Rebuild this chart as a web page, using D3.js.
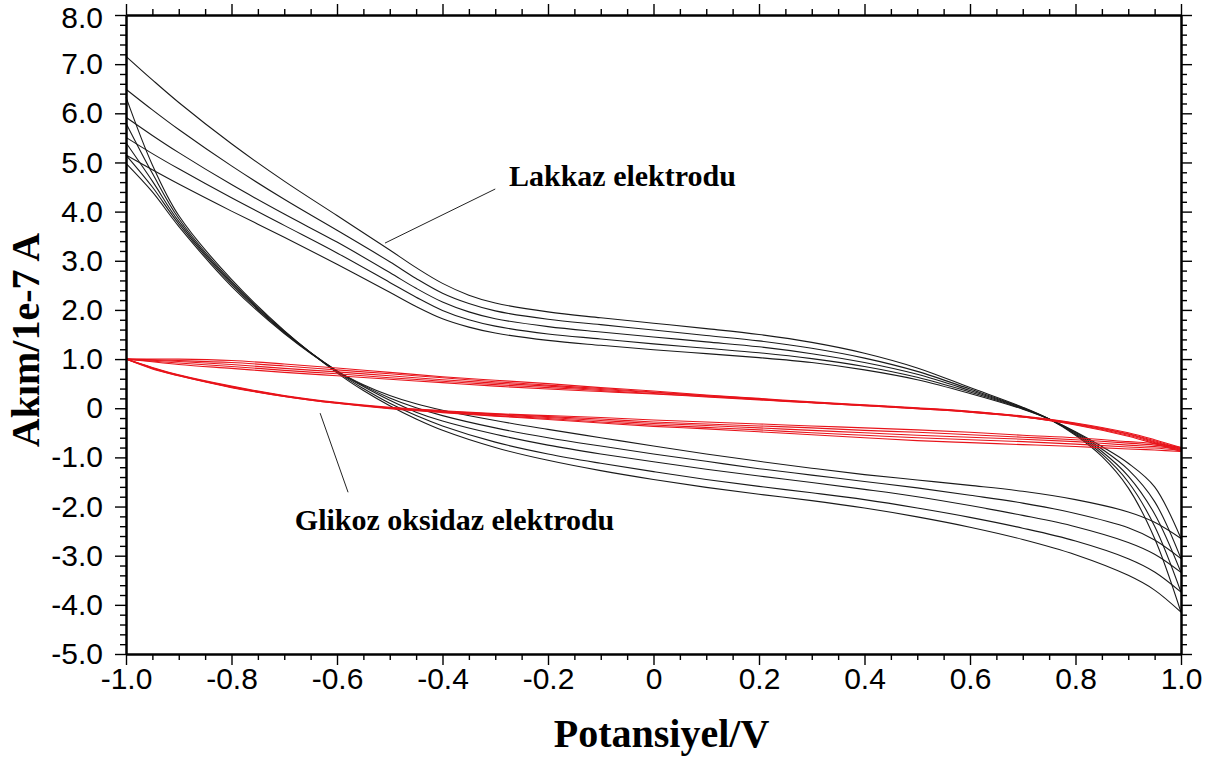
<!DOCTYPE html>
<html lang="tr">
<head>
<meta charset="UTF-8">
<title>Akım - Potansiyel</title>
<style>
  body { margin: 0; background: #fff; }
  .axis path, .axis line { stroke: #000; }
  .axis path { stroke-width: 2; }
  .axis line { stroke-width: 1.4; }
  .axis text { font-family: "Liberation Sans", Arial, sans-serif; font-size: 30px; fill: #000; }
  .title { font-family: "Liberation Serif", "Times New Roman", serif; font-weight: bold; fill: #000; }
</style>
</head>
<body>
<div id="chart"></div>
<script src="https://d3js.org/d3.v7.min.js"></script>
<script>
// ---- data ----
const yTicks = [-5, -4, -3, -2, -1, 0, 1, 2, 3, 4, 5, 6, 7, 8];
const yTickLabels = ["-5.0", "-4.0", "-3.0", "-2.0", "-1.0", "0", "1.0", "2.0", "3.0", "4.0", "5.0", "6.0", "7.0", "8.0"];
const xTicks = [-1.0, -0.8, -0.6, -0.4, -0.2, 0, 0.2, 0.4, 0.6, 0.8, 1.0];
const xTickLabels = ["-1.0", "-0.8", "-0.6", "-0.4", "-0.2", "0", "0.2", "0.4", "0.6", "0.8", "1.0"];

// Lakkaz elektrodu (black), 5 cycles: forward scan -1 -> +1, then back +1 -> -1
const lakXUp = [-1.0, -0.95, -0.9, -0.8, -0.7, -0.6, -0.5, -0.45, -0.4, -0.35, -0.3, -0.2, -0.1, 0, 0.1, 0.2, 0.3, 0.4, 0.5, 0.6, 0.7, 0.75, 0.8, 0.85, 0.9, 0.95, 1.0];
const lakUp1 = [7.16, 6.68, 6.22, 5.38, 4.62, 3.92, 3.22, 2.86, 2.54, 2.30, 2.14, 1.96, 1.84, 1.73, 1.62, 1.50, 1.34, 1.12, 0.82, 0.42, 0.02, -0.22, -0.55, -0.98, -1.62, -2.65, -4.15];
const lakUp2 = [6.49, 6.07, 5.67, 4.93, 4.25, 3.62, 2.98, 2.64, 2.34, 2.13, 1.98, 1.81, 1.70, 1.59, 1.48, 1.37, 1.22, 1.02, 0.75, 0.39, 0.01, -0.22, -0.53, -0.93, -1.50, -2.40, -3.74];
const lakUp3 = [5.92, 5.55, 5.20, 4.55, 3.95, 3.38, 2.76, 2.44, 2.16, 1.96, 1.82, 1.66, 1.55, 1.45, 1.35, 1.25, 1.11, 0.93, 0.69, 0.36, 0.00, -0.22, -0.51, -0.88, -1.38, -2.15, -3.34];
const lakUp4 = [5.51, 5.18, 4.87, 4.28, 3.72, 3.16, 2.56, 2.26, 1.99, 1.80, 1.67, 1.51, 1.41, 1.31, 1.22, 1.13, 1.01, 0.85, 0.63, 0.33, -0.01, -0.22, -0.49, -0.83, -1.25, -1.90, -3.06];
const lakUp5 = [5.15, 4.85, 4.56, 4.01, 3.48, 2.93, 2.36, 2.07, 1.82, 1.65, 1.53, 1.38, 1.28, 1.19, 1.11, 1.03, 0.93, 0.78, 0.58, 0.30, -0.02, -0.22, -0.48, -0.78, -1.12, -1.60, -2.65];

const lakXDown = [1.0, 0.95, 0.9, 0.8, 0.7, 0.6, 0.5, 0.4, 0.3, 0.2, 0.1, 0, -0.1, -0.2, -0.3, -0.4, -0.45, -0.5, -0.55, -0.6, -0.7, -0.8, -0.9, -0.95, -1.0];
const lakDown1 = [-4.15, -3.70, -3.40, -2.98, -2.67, -2.42, -2.21, -2.03, -1.88, -1.75, -1.61, -1.45, -1.27, -1.06, -0.80, -0.45, -0.22, 0.05, 0.36, 0.72, 1.58, 2.62, 3.92, 4.95, 6.33];
const lakDown2 = [-3.74, -3.33, -3.06, -2.70, -2.44, -2.22, -2.03, -1.86, -1.72, -1.59, -1.45, -1.29, -1.12, -0.93, -0.69, -0.36, -0.15, 0.10, 0.40, 0.74, 1.57, 2.58, 3.86, 4.78, 5.80];
const lakDown3 = [-3.34, -2.97, -2.73, -2.41, -2.18, -1.98, -1.80, -1.65, -1.51, -1.38, -1.24, -1.09, -0.93, -0.75, -0.53, -0.26, -0.08, 0.16, 0.44, 0.75, 1.55, 2.55, 3.80, 4.62, 5.40];
const lakDown4 = [-3.06, -2.68, -2.43, -2.14, -1.93, -1.77, -1.62, -1.49, -1.36, -1.23, -1.08, -0.93, -0.77, -0.60, -0.40, -0.15, 0.01, 0.21, 0.46, 0.76, 1.54, 2.52, 3.75, 4.50, 5.15];
const lakDown5 = [-2.65, -2.32, -2.11, -1.86, -1.69, -1.57, -1.46, -1.35, -1.22, -1.08, -0.93, -0.77, -0.60, -0.43, -0.25, -0.04, 0.09, 0.26, 0.48, 0.76, 1.52, 2.48, 3.70, 4.40, 4.98];

// Glikoz oksidaz elektrodu (red), 5 cycles
const gluXUp = [-1.0, -0.9, -0.8, -0.7, -0.6, -0.5, -0.4, -0.3, -0.2, -0.1, 0, 0.1, 0.2, 0.3, 0.4, 0.5, 0.6, 0.7, 0.8, 0.9, 0.95, 1.0];
const gluUp1 = [1.00, 1.00, 0.97, 0.90, 0.82, 0.73, 0.64, 0.57, 0.50, 0.42, 0.35, 0.27, 0.20, 0.13, 0.07, 0.01, -0.06, -0.16, -0.30, -0.50, -0.64, -0.80];
const gluUp2 = [1.00, 0.97, 0.93, 0.86, 0.78, 0.70, 0.62, 0.54, 0.47, 0.40, 0.33, 0.26, 0.19, 0.12, 0.06, 0.00, -0.07, -0.17, -0.31, -0.52, -0.66, -0.82];
const gluUp3 = [1.00, 0.95, 0.89, 0.81, 0.74, 0.66, 0.58, 0.51, 0.45, 0.38, 0.32, 0.25, 0.18, 0.12, 0.06, 0.00, -0.07, -0.17, -0.32, -0.53, -0.68, -0.84];
const gluUp4 = [1.00, 0.92, 0.85, 0.77, 0.70, 0.62, 0.55, 0.48, 0.42, 0.36, 0.30, 0.24, 0.18, 0.11, 0.05, -0.01, -0.08, -0.18, -0.33, -0.55, -0.70, -0.86];
const gluUp5 = [1.00, 0.89, 0.81, 0.73, 0.66, 0.59, 0.52, 0.45, 0.39, 0.34, 0.29, 0.23, 0.17, 0.11, 0.05, -0.01, -0.08, -0.18, -0.34, -0.57, -0.72, -0.88];

const gluXDown = [1.0, 0.95, 0.9, 0.8, 0.7, 0.6, 0.5, 0.4, 0.3, 0.2, 0.1, 0, -0.1, -0.2, -0.3, -0.4, -0.5, -0.6, -0.7, -0.8, -0.9, -0.95, -1.0];
const gluDown1 = [-0.80, -0.72, -0.68, -0.60, -0.55, -0.49, -0.44, -0.40, -0.36, -0.32, -0.28, -0.24, -0.19, -0.15, -0.11, -0.05, 0.02, 0.12, 0.26, 0.45, 0.68, 0.83, 1.00];
const gluDown2 = [-0.82, -0.75, -0.71, -0.64, -0.59, -0.54, -0.49, -0.45, -0.40, -0.36, -0.32, -0.28, -0.22, -0.17, -0.12, -0.06, 0.01, 0.11, 0.25, 0.44, 0.67, 0.82, 1.00];
const gluDown3 = [-0.84, -0.78, -0.75, -0.68, -0.63, -0.59, -0.55, -0.50, -0.45, -0.40, -0.35, -0.31, -0.25, -0.19, -0.13, -0.07, 0.00, 0.11, 0.25, 0.43, 0.67, 0.82, 1.00];
const gluDown4 = [-0.86, -0.81, -0.79, -0.73, -0.68, -0.64, -0.60, -0.55, -0.50, -0.44, -0.39, -0.34, -0.28, -0.21, -0.15, -0.08, 0.00, 0.10, 0.24, 0.43, 0.66, 0.81, 1.00];
const gluDown5 = [-0.88, -0.85, -0.83, -0.78, -0.74, -0.70, -0.66, -0.60, -0.54, -0.48, -0.42, -0.37, -0.30, -0.23, -0.16, -0.09, -0.01, 0.10, 0.24, 0.42, 0.66, 0.80, 1.00];

// ---- layout ----
const W = 1216, H = 762;
const margin = {top: 15, right: 35, bottom: 108, left: 126};
const width = 1181 - margin.left;
const height = 654 - margin.top;

const svg = d3.select("#chart").append("svg")
  .attr("width", W)
  .attr("height", H)
  .append("g")
  .attr("transform", `translate(${margin.left},${margin.top})`);

const x = d3.scaleLinear().domain([-1, 1]).range([0, width]);
const y = d3.scaleLinear().domain([-5, 8]).range([height, 0]);

const xMinor = d3.range(-100, 101, 5).map(d => d / 100).filter(d => Math.round(d * 100) % 20 !== 0);
const yMinor = d3.range(-50, 81, 2).map(d => d / 10).filter(d => Math.round(d * 10) % 10 !== 0);

// curves
const line = d3.line()
  .x(d => x(d[0]))
  .y(d => y(d[1]))
  .curve(d3.curveCatmullRom.alpha(0.5));

const plot = svg.append("g");

function drawBranch(xs, ys, color, sw) {
  plot.append("path")
    .datum(xs.map((v, i) => [v, ys[i]]))
    .attr("fill", "none")
    .attr("stroke", color)
    .attr("stroke-width", sw)
    .attr("d", line);
}

[[lakUp1, lakDown1], [lakUp2, lakDown2], [lakUp3, lakDown3], [lakUp4, lakDown4], [lakUp5, lakDown5]]
  .forEach(([u, dn]) => {
    drawBranch(lakXUp, u, "#1a1a1a", 1.1);
    drawBranch(lakXDown, dn, "#1a1a1a", 1.1);
  });

[[gluUp1, gluDown1], [gluUp2, gluDown2], [gluUp3, gluDown3], [gluUp4, gluDown4], [gluUp5, gluDown5]]
  .forEach(([u, dn]) => {
    drawBranch(gluXUp, u, "#e8141b", 1.1);
    drawBranch(gluXDown, dn, "#e8141b", 1.1);
  });

// axes: all ticks point outward
svg.append("g").attr("class", "axis")
  .attr("transform", `translate(0,${height})`)
  .call(d3.axisBottom(x).tickValues(xMinor).tickSize(6).tickSizeOuter(0).tickFormat(""));
svg.append("g").attr("class", "axis")
  .attr("transform", `translate(0,${height})`)
  .call(d3.axisBottom(x).tickValues(xTicks).tickSize(11).tickSizeOuter(0).tickPadding(3)
    .tickFormat((d, i) => xTickLabels[i]));

svg.append("g").attr("class", "axis")
  .call(d3.axisTop(x).tickValues(xMinor).tickSize(6).tickSizeOuter(0).tickFormat(""));
svg.append("g").attr("class", "axis")
  .call(d3.axisTop(x).tickValues(xTicks).tickSize(11).tickSizeOuter(0).tickFormat(""));

svg.append("g").attr("class", "axis")
  .call(d3.axisLeft(y).tickValues(yMinor).tickSize(6).tickSizeOuter(0).tickFormat(""));
const yAxisG = svg.append("g").attr("class", "axis")
  .call(d3.axisLeft(y).tickValues(yTicks).tickSize(11).tickSizeOuter(0).tickPadding(12)
    .tickFormat((d, i) => yTickLabels[i]));
// keep the top label inside the page
yAxisG.selectAll(".tick text").filter(d => d === 8).attr("y", 3);

svg.append("g").attr("class", "axis")
  .attr("transform", `translate(${width},0)`)
  .call(d3.axisRight(y).tickValues(yMinor).tickSize(6).tickSizeOuter(0).tickFormat(""));
svg.append("g").attr("class", "axis")
  .attr("transform", `translate(${width},0)`)
  .call(d3.axisRight(y).tickValues(yTicks).tickSize(11).tickSizeOuter(0).tickFormat(""));

// axis titles
svg.append("text")
  .attr("class", "title")
  .attr("x", x(0) + 8)
  .attr("y", height + 93)
  .attr("text-anchor", "middle")
  .style("font-size", "40px")
  .text("Potansiyel/V");

svg.append("text")
  .attr("class", "title")
  .attr("transform", "rotate(-90)")
  .attr("x", -(340 - margin.top))
  .attr("y", 39 - margin.left)
  .attr("text-anchor", "middle")
  .style("font-size", "40px")
  .text("Akım/1e-7 A");

// annotations
svg.append("line")
  .attr("x1", x(-0.30)).attr("y1", y(4.46))
  .attr("x2", x(-0.509)).attr("y2", y(3.36))
  .attr("stroke", "#222").attr("stroke-width", 1);
svg.append("text")
  .attr("class", "title")
  .attr("x", x(-0.274))
  .attr("y", y(4.52))
  .style("font-size", "30px")
  .text("Lakkaz elektrodu");

svg.append("line")
  .attr("x1", x(-0.632)).attr("y1", y(-0.10))
  .attr("x2", x(-0.579)).attr("y2", y(-1.71))
  .attr("stroke", "#222").attr("stroke-width", 1);
svg.append("text")
  .attr("class", "title")
  .attr("x", x(-0.68))
  .attr("y", y(-2.48))
  .style("font-size", "30px")
  .text("Glikoz oksidaz elektrodu");
</script>
</body>
</html>
